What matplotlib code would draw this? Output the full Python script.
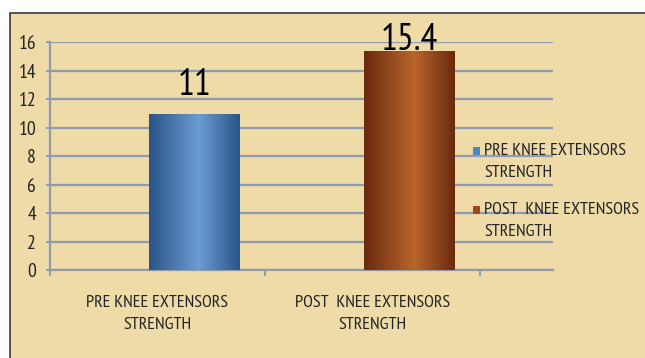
import matplotlib
matplotlib.use("Agg")
import matplotlib.pyplot as plt
import numpy as np
from matplotlib.colors import LinearSegmentedColormap
from matplotlib.patches import Rectangle
from matplotlib import font_manager as fm

_avail = {f.name for f in fm.fontManager.ttflist}
_prefs = ['PT Sans Narrow', 'Open Sans Condensed', 'Roboto Condensed', 'Liberation Sans Narrow', 'Carlito', 'DejaVu Sans']
FONT = next(p for p in _prefs if p in _avail)
plt.rcParams['font.family'] = [FONT, 'DejaVu Sans']

# ---- data ----
categories = ["PRE KNEE EXTENSORS\nSTRENGTH", "POST  KNEE EXTENSORS\nSTRENGTH"]
series_names = ["PRE KNEE EXTENSORS\nSTRENGTH", "POST  KNEE EXTENSORS\nSTRENGTH"]
values = [11, 15.4]
value_labels = ["11", "15.4"]
y_ticks = [0, 2, 4, 6, 8, 10, 12, 14, 16]

# ---- style ----
W, H = 645, 358
bg = "#EEDBA7"
grid_c = "#8E9BB0"
edge_cols = ["#2B5486", "#6A2A0E"]
mid_cols = ["#6B9CD4", "#B9652C"]
legend_cols = ["#4A86C8", "#A0461E"]
bar_offset = 0.172
bar_width = 0.423
label_offsets_px = [11, -7]

fig = plt.figure(figsize=(W / 100, H / 100), dpi=100)
fig.patch.set_facecolor("white")

frame = Rectangle((10 / W, -0.1), 1.2, (H - 13) / H + 0.1, transform=fig.transFigure,
                  facecolor=bg, edgecolor="#3a3a3a", lw=1.2, zorder=-10)
fig.patches.append(frame)

ax = fig.add_axes([50 / W, (H - 270.3) / H, 503 / W, (270.3 - 42.3) / H])
ax.set_facecolor("none")

xs = np.arange(len(values)) + bar_offset
bars = ax.bar(xs, values, width=bar_width, color=mid_cols, zorder=3)

for b, ec, mc in zip(bars, edge_cols, mid_cols):
    cmap = LinearSegmentedColormap.from_list("g", [(0, ec), (0.55, mc), (1, ec)])
    grad = np.linspace(0, 1, 256).reshape(1, -1)
    x0, y0 = b.get_x(), b.get_y()
    im = ax.imshow(grad, cmap=cmap, aspect="auto", zorder=3.5,
                   extent=[x0, x0 + b.get_width(), y0, y0 + b.get_height()])
    im.set_clip_path(b)
ax.set_xlim(-0.5, -0.5 + 503 / 215)
ax.set_ylim(0, 16)

for b, lab, off in zip(bars, value_labels, label_offsets_px):
    ax.annotate(lab, (b.get_x() + b.get_width() / 2, b.get_height()),
                xytext=(0, off * 0.72), textcoords="offset points",
                ha="center", va="bottom", fontsize=27, color="black", zorder=5)

ax.set_yticks(y_ticks)
ax.yaxis.grid(True, color=grid_c, lw=1.6, zorder=1)
ax.set_axisbelow(True)

ax.set_xticks([i - 0.5 for i in range(len(categories) + 1)])
ax.set_xticklabels([])
ax.set_xticks(range(len(categories)), minor=True)
ax.set_xticklabels(categories, minor=True, fontsize=13, linespacing=1.5, color="#222222")
ax.tick_params(axis="x", which="minor", length=0, pad=18)
ax.tick_params(axis="x", which="major", length=4.5, width=1.4, color=grid_c, direction="out")
ax.tick_params(axis="y", length=3, width=1.4, color=grid_c, pad=7, labelsize=14, labelcolor="#222222")

for s in ["top", "right"]:
    ax.spines[s].set_visible(False)
for s in ["left", "bottom"]:
    ax.spines[s].set_color(grid_c)
    ax.spines[s].set_linewidth(1.6)

leg_y = [151, 210]
for name, c, yy in zip(series_names, legend_cols, leg_y):
    fig.patches.append(Rectangle((473 / W, (H - yy - 4) / H), 7 / W, 8 / H,
                                 transform=fig.transFigure, facecolor=c, edgecolor="none", zorder=6))
    fig.text(484 / W, (H - yy + 8) / H, name, ha="left", va="top", fontsize=13,
             linespacing=1.5, color="#222222", zorder=6)

fig.savefig("out.png", dpi=100, facecolor=fig.get_facecolor())
